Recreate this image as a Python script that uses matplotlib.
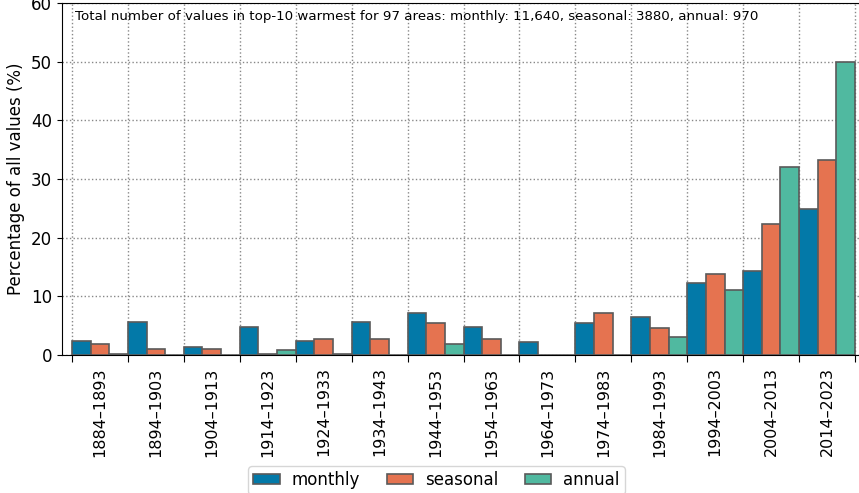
import matplotlib.pyplot as plt
import numpy as np

decades = ["1884–1893", "1894–1903", "1904–1913", "1914–1923", "1924–1933",
           "1934–1943", "1944–1953", "1954–1963", "1964–1973", "1974–1983",
           "1984–1993", "1994–2003", "2004–2013", "2014–2023"]
monthly = [2.4, 5.6, 1.3, 4.8, 2.4, 5.6, 7.2, 4.8, 2.2, 5.4, 6.5, 12.2, 14.25, 24.9]
seasonal = [1.8, 1.1, 1.1, 0.2, 2.8, 2.7, 5.4, 2.8, 0.0, 7.1, 4.6, 13.8, 22.3, 33.3]
annual = [0.2, 0.0, 0.0, 0.9, 0.2, 0.0, 1.8, 0.0, 0.0, 0.0, 3.1, 11.0, 32.0, 50.0]

series = [("monthly", monthly, "#0379a8"),
          ("seasonal", seasonal, "#e57350"),
          ("annual", annual, "#50b9a0")]

fig = plt.figure(figsize=(8.59, 4.93), dpi=100)
ax = fig.add_axes([0.072, 0.280, 0.928, 0.714])

x = np.arange(len(decades))
width = 1 / 3
for i, (name, vals, color) in enumerate(series):
    ax.bar(x + i * width, vals, width=width, align="edge", color=color,
           edgecolor="#5a5a5a", linewidth=1.2, label=name, zorder=3)

ax.set_xlim(-0.18, 14.07)
ax.set_ylim(0, 60)
ax.set_yticks(range(0, 61, 10))
ax.set_xticks(np.arange(len(decades) + 1))
ax.set_xticklabels([])
ax.set_xticks(x + 0.5, minor=True)
ax.set_xticklabels(decades, minor=True, rotation=90, fontsize=11.5)
ax.tick_params(axis="x", which="minor", length=0, pad=9)
ax.tick_params(axis="x", which="major", length=5)
ax.tick_params(axis="y", labelsize=12)
ax.grid(True, which="major", linestyle=":", color="#888888", linewidth=1.0, zorder=0)
ax.set_ylabel("Percentage of all values (%)", fontsize=12)
ax.spines["right"].set_visible(False)

ax.text(0.05, 57.7, "Total number of values in top-10 warmest for 97 areas: monthly: 11,640, "
        "seasonal: 3880, annual: 970", fontsize=9.6,
        va="center", ha="left", zorder=5)

fig.legend(loc="center", bbox_to_anchor=(0.508, 0.026), ncol=3, fontsize=12,
           handlelength=1.6, handleheight=0.55, columnspacing=1.6,
           borderpad=0.3, handletextpad=0.7)

fig.savefig("out.png", dpi=100)
